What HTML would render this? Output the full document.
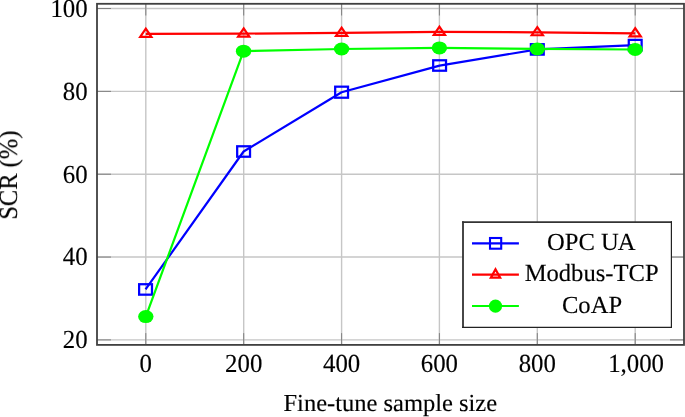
<!DOCTYPE html>
<html><head><meta charset="utf-8">
<style>
html,body{margin:0;padding:0;background:#fff;width:685px;height:417px;overflow:hidden}
svg{display:block}
text{font-family:"Liberation Serif",serif;font-size:24.5px;fill:#000}
.txt{filter:grayscale(1);stroke:#000;stroke-width:0.15px}
svg{text-rendering:geometricPrecision}
</style></head>
<body>
<svg width="685" height="417" viewBox="0 0 685 417">
<!-- grid -->
<g stroke="#c6c6c6" stroke-width="1.4" fill="none">
<line x1="97" y1="8.5" x2="684" y2="8.5"/>
<line x1="97" y1="91.35" x2="684" y2="91.35"/>
<line x1="97" y1="174.2" x2="684" y2="174.2"/>
<line x1="97" y1="257.05" x2="684" y2="257.05"/>
<line x1="97" y1="339.9" x2="684" y2="339.9"/>
<line x1="145.8" y1="3.8" x2="145.8" y2="344.9"/>
<line x1="243.7" y1="3.8" x2="243.7" y2="344.9"/>
<line x1="341.6" y1="3.8" x2="341.6" y2="344.9"/>
<line x1="439.4" y1="3.8" x2="439.4" y2="344.9"/>
<line x1="537.3" y1="3.8" x2="537.3" y2="344.9"/>
<line x1="635.2" y1="3.8" x2="635.2" y2="344.9"/>
</g>
<!-- ticks -->
<g stroke="#808080" stroke-width="1" fill="none">
<path d="M97 8.5H111M97 91.35H111M97 174.2H111M97 257.05H111M97 339.9H111"/>
<path d="M684 8.5H670M684 91.35H670M684 174.2H670M684 257.05H670M684 339.9H670"/>
<path d="M145.8 344.9V333.1M243.7 344.9V333.1M341.6 344.9V333.1M439.4 344.9V333.1M537.3 344.9V333.1M635.2 344.9V333.1"/>
<path d="M145.8 3.8V15.5M243.7 3.8V15.5M341.6 3.8V15.5M439.4 3.8V15.5M537.3 3.8V15.5M635.2 3.8V15.5"/>
</g>
<!-- axis box -->
<rect x="97" y="3.8" width="587" height="341.1" fill="none" stroke="#404040" stroke-width="1.8"/>

<!-- OPC UA -->
<g stroke="#0000ff" stroke-width="2.2" fill="none" stroke-linejoin="round">
<polyline points="145.55,289.45 243.6,151.5 341.6,92.2 439.6,65.6 537.3,49.4 635.2,45.1"/>
<g stroke-linejoin="miter" stroke-width="2.25">
<rect x="139.125" y="284.225" width="12.85" height="10.45"/>
<rect x="237.175" y="146.275" width="12.85" height="10.45"/>
<rect x="335.175" y="86.675" width="12.85" height="11.05"/>
<rect x="433.175" y="60.275" width="12.85" height="10.45"/>
<rect x="530.875" y="44.175" width="12.85" height="10.45"/>
<rect x="628.775" y="39.875" width="12.85" height="10.45"/>
</g>
</g>
<!-- Modbus -->
<g stroke="#ff0000" stroke-width="2.2" fill="none" stroke-linejoin="round">
<polyline points="145.8,33.9 243.7,33.6 341.6,32.9 439.4,31.9 537.3,32.3 635.2,33.4"/>
</g>
<g stroke="#ff0000" stroke-width="2.2" fill="none" stroke-linejoin="miter">
<path d="M0,-5.21 L5.6,2.95 L-5.6,2.95 Z" transform="translate(145.8,33.9)"/>
<path d="M0,-5.21 L5.6,2.95 L-5.6,2.95 Z" transform="translate(243.7,33.6)"/>
<path d="M0,-5.21 L5.6,2.95 L-5.6,2.95 Z" transform="translate(341.6,32.9)"/>
<path d="M0,-5.21 L5.6,2.95 L-5.6,2.95 Z" transform="translate(439.4,31.9)"/>
<path d="M0,-5.21 L5.6,2.95 L-5.6,2.95 Z" transform="translate(537.3,32.3)"/>
<path d="M0,-5.21 L5.6,2.95 L-5.6,2.95 Z" transform="translate(635.2,33.4)"/>
</g>
<!-- CoAP -->
<g stroke="#00ff00" stroke-width="2.2" fill="none" stroke-linejoin="round">
<polyline points="145.8,316.6 243.55,51.2 341.6,49.0 439.4,47.9 537.3,48.9 635.2,49.5"/>
</g>
<g fill="#00ff00">
<ellipse cx="145.8" cy="316.6" rx="7.7" ry="6.5"/>
<ellipse cx="243.55" cy="51.2" rx="7.7" ry="6.5"/>
<ellipse cx="341.6" cy="49.0" rx="7.7" ry="6.5"/>
<ellipse cx="439.4" cy="47.9" rx="7.7" ry="6.5"/>
<ellipse cx="537.3" cy="48.9" rx="7.7" ry="6.5"/>
<ellipse cx="635.2" cy="49.5" rx="7.7" ry="6.5"/>
</g>

<!-- legend -->
<rect x="463" y="222" width="208.4" height="105.3" fill="#fff"/>
<g stroke="#333" fill="none">
<line x1="462.1" y1="222.1" x2="672" y2="222.1" stroke-width="1.7"/>
<line x1="463.0" y1="221.3" x2="463.0" y2="327.9" stroke-width="1.8"/>
<line x1="671.4" y1="221.3" x2="671.4" y2="327.9" stroke-width="1.2" stroke="#222"/>
<line x1="462.1" y1="327.3" x2="672" y2="327.3" stroke-width="1.2" stroke="#222"/>
</g>
<g stroke-width="2.2" fill="none">
<line x1="472" y1="243.4" x2="518.9" y2="243.4" stroke="#0000ff"/>
<rect x="490.0" y="238.0" width="11.2" height="10.7" stroke="#0000ff" stroke-width="2.1"/>
<line x1="472" y1="274.6" x2="518.9" y2="274.6" stroke="#ff0000"/>
<path d="M0,-5.68 L4.64,2.74 L-4.64,2.74 Z" transform="translate(495.5,274.9)" stroke="#ff0000" stroke-width="2.2" stroke-linejoin="miter"/>
<line x1="472" y1="306.0" x2="518.9" y2="306.0" stroke="#00ff00"/>
</g>
<circle cx="495.5" cy="306.2" r="6.6" fill="#00ff00"/>
<g class="txt">
<text transform="translate(591.3,250.0) scale(1,1.0)" text-anchor="middle" style="font-size:24.6px">OPC U<tspan dx="-0.9">A</tspan></text>
<text transform="translate(591.6,281.0) scale(1,1.0)" text-anchor="middle" style="font-size:24.6px">Modbus-TCP</text>
<text transform="translate(592.0,313.0) scale(1,1.0)" text-anchor="middle" style="font-size:24.6px">CoAP</text>
<text transform="translate(87.6,16.9) scale(1,1.05)" text-anchor="end" style="font-size:24.8px">100</text>
<text transform="translate(87.6,99.75) scale(1,1.05)" text-anchor="end" style="font-size:24.8px">80</text>
<text transform="translate(87.6,182.6) scale(1,1.05)" text-anchor="end" style="font-size:24.8px">60</text>
<text transform="translate(87.6,265.45) scale(1,1.05)" text-anchor="end" style="font-size:24.8px">40</text>
<text transform="translate(87.6,348.3) scale(1,1.05)" text-anchor="end" style="font-size:24.8px">20</text>
<text transform="translate(145.8,371.5) scale(1,1.05)" text-anchor="middle" style="font-size:24.8px">0</text>
<text transform="translate(243.7,371.5) scale(1,1.05)" text-anchor="middle" style="font-size:24.8px">200</text>
<text transform="translate(341.6,371.5) scale(1,1.05)" text-anchor="middle" style="font-size:24.8px">400</text>
<text transform="translate(439.4,371.5) scale(1,1.05)" text-anchor="middle" style="font-size:24.8px">600</text>
<text transform="translate(537.3,371.5) scale(1,1.05)" text-anchor="middle" style="font-size:24.8px">800</text>
<text transform="translate(636.1,371.5) scale(1,1.05)" text-anchor="middle" style="font-size:24.8px">1,000</text>
<text transform="translate(390.3,411.3) scale(1,1.0)" text-anchor="middle">Fine-tune sample size</text>
<text transform="translate(17.4,175.2) rotate(-90) scale(1,1.065)" text-anchor="middle">SCR (%)</text>
</g>
</svg>
</body></html>
